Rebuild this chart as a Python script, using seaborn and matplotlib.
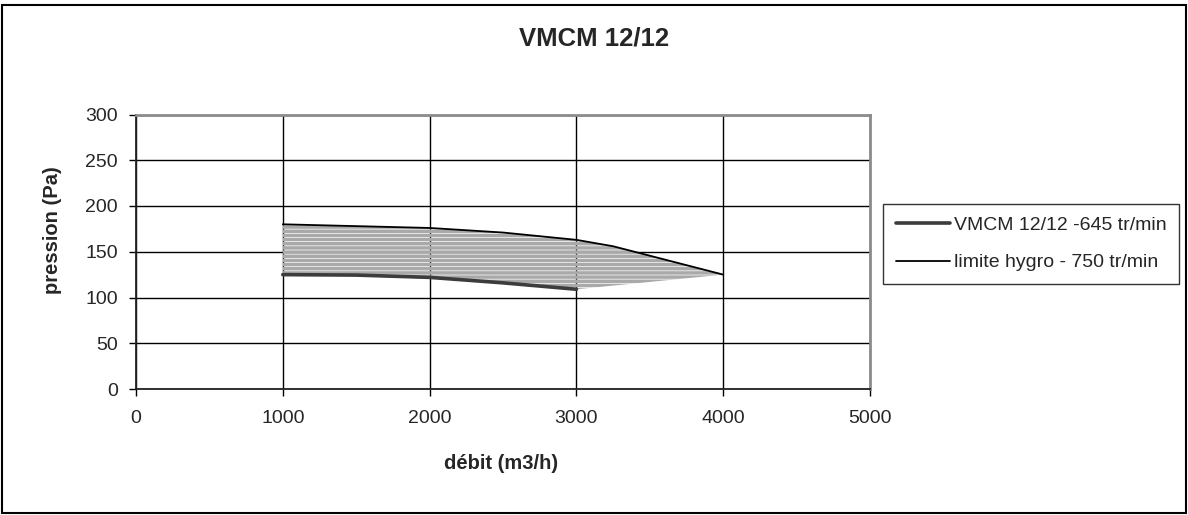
import numpy as np
import pandas as pd
import matplotlib
matplotlib.use("Agg")
import matplotlib.pyplot as plt
from matplotlib.patches import Rectangle
import seaborn as sns

# Fan curves: flow (m3/h) vs pressure (Pa)
debit_645 = [1000, 1500, 2000, 2500, 3000]
pression_645 = [125, 124.5, 122, 116, 109]

debit_750 = [1000, 1500, 2000, 2500, 3000, 3250, 4000]
pression_750 = [180, 178, 176, 171, 163, 156, 125]

label_645 = "VMCM 12/12 -645 tr/min"
label_750 = "limite hygro - 750 tr/min"

x_ticks = [0, 1000, 2000, 3000, 4000, 5000]
y_ticks = [0, 50, 100, 150, 200, 250, 300]

stripe_gray = "#a9a9a9"

sns.set_style("white")
plt.rcParams["font.family"] = ["Liberation Sans", "DejaVu Sans"]
plt.rcParams["hatch.color"] = stripe_gray
plt.rcParams["hatch.linewidth"] = 2.5

fig = plt.figure(figsize=(11.88, 5.15), dpi=100)
ax = fig.add_axes([136 / 1188, 1 - 389 / 515, 734 / 1188, 274.5 / 515])

df_645 = pd.DataFrame({"debit": debit_645, "pression": pression_645})
df_750 = pd.DataFrame({"debit": debit_750, "pression": pression_750})

# Operating zone between the two curves, drawn as horizontal gray stripes
poly_x = list(debit_750) + list(debit_645[::-1])
poly_y = list(pression_750) + list(pression_645[::-1])
ax.fill(poly_x, poly_y, facecolor="none", edgecolor=stripe_gray, linewidth=0,
        hatch="----", zorder=2)

sns.lineplot(data=df_645, x="debit", y="pression", ax=ax, color="#3c3c3c",
             linewidth=2.6, label=label_645, zorder=4)
sns.lineplot(data=df_750, x="debit", y="pression", ax=ax, color="black",
             linewidth=1.3, label=label_750, zorder=4)

ax.set_xlim(0, 5000)
ax.set_ylim(0, 300)
ax.set_xticks(x_ticks)
ax.set_yticks(y_ticks)
ax.grid(True, color="black", linewidth=1.0, zorder=1)
ax.set_axisbelow(True)

for side in ["left", "bottom"]:
    ax.spines[side].set_color("#222222")
    ax.spines[side].set_linewidth(1.3)
for side in ["top", "right"]:
    ax.spines[side].set_color("#8c8c8c")
    ax.spines[side].set_linewidth(2.0)

ax.tick_params(axis="both", which="both", direction="out", length=5, width=1.0,
               color="black", labelsize=14, left=True, bottom=True)
ax.tick_params(axis="x", pad=10)
ax.tick_params(axis="y", pad=8)

ax.set_xlabel("débit (m3/h)", fontsize=14.5, fontweight="bold", va="baseline")
ax.xaxis.set_label_coords(0.497, -0.291)
ax.set_ylabel("pression (Pa)", fontsize=14.5, fontweight="bold", va="baseline")
ax.yaxis.set_label_coords(-0.106, 0.58)

fig.text(0.5, 1 - 46 / 515, "VMCM 12/12", ha="center", va="baseline",
         fontsize=18.5, fontweight="bold")

handles, labels = ax.get_legend_handles_labels()
ax.get_legend().remove()
leg = fig.legend(handles, labels, loc="upper left",
                 bbox_to_anchor=(883 / 1188, 1 - 204 / 515),
                 bbox_transform=fig.transFigure, borderaxespad=0,
                 fontsize=14, frameon=True, fancybox=False, shadow=False,
                 handlelength=2.8, handletextpad=0.2, labelspacing=1.0,
                 borderpad=0.65)
leg.get_frame().set_edgecolor("black")
leg.get_frame().set_linewidth(1.0)

# Outer chart frame
fig.patches.append(Rectangle((1.5 / 1188, 2.5 / 515), 1184.5 / 1188, 508 / 515,
                             transform=fig.transFigure, fill=False,
                             edgecolor="black", linewidth=1.5))

fig.savefig("out.png", dpi=100)
